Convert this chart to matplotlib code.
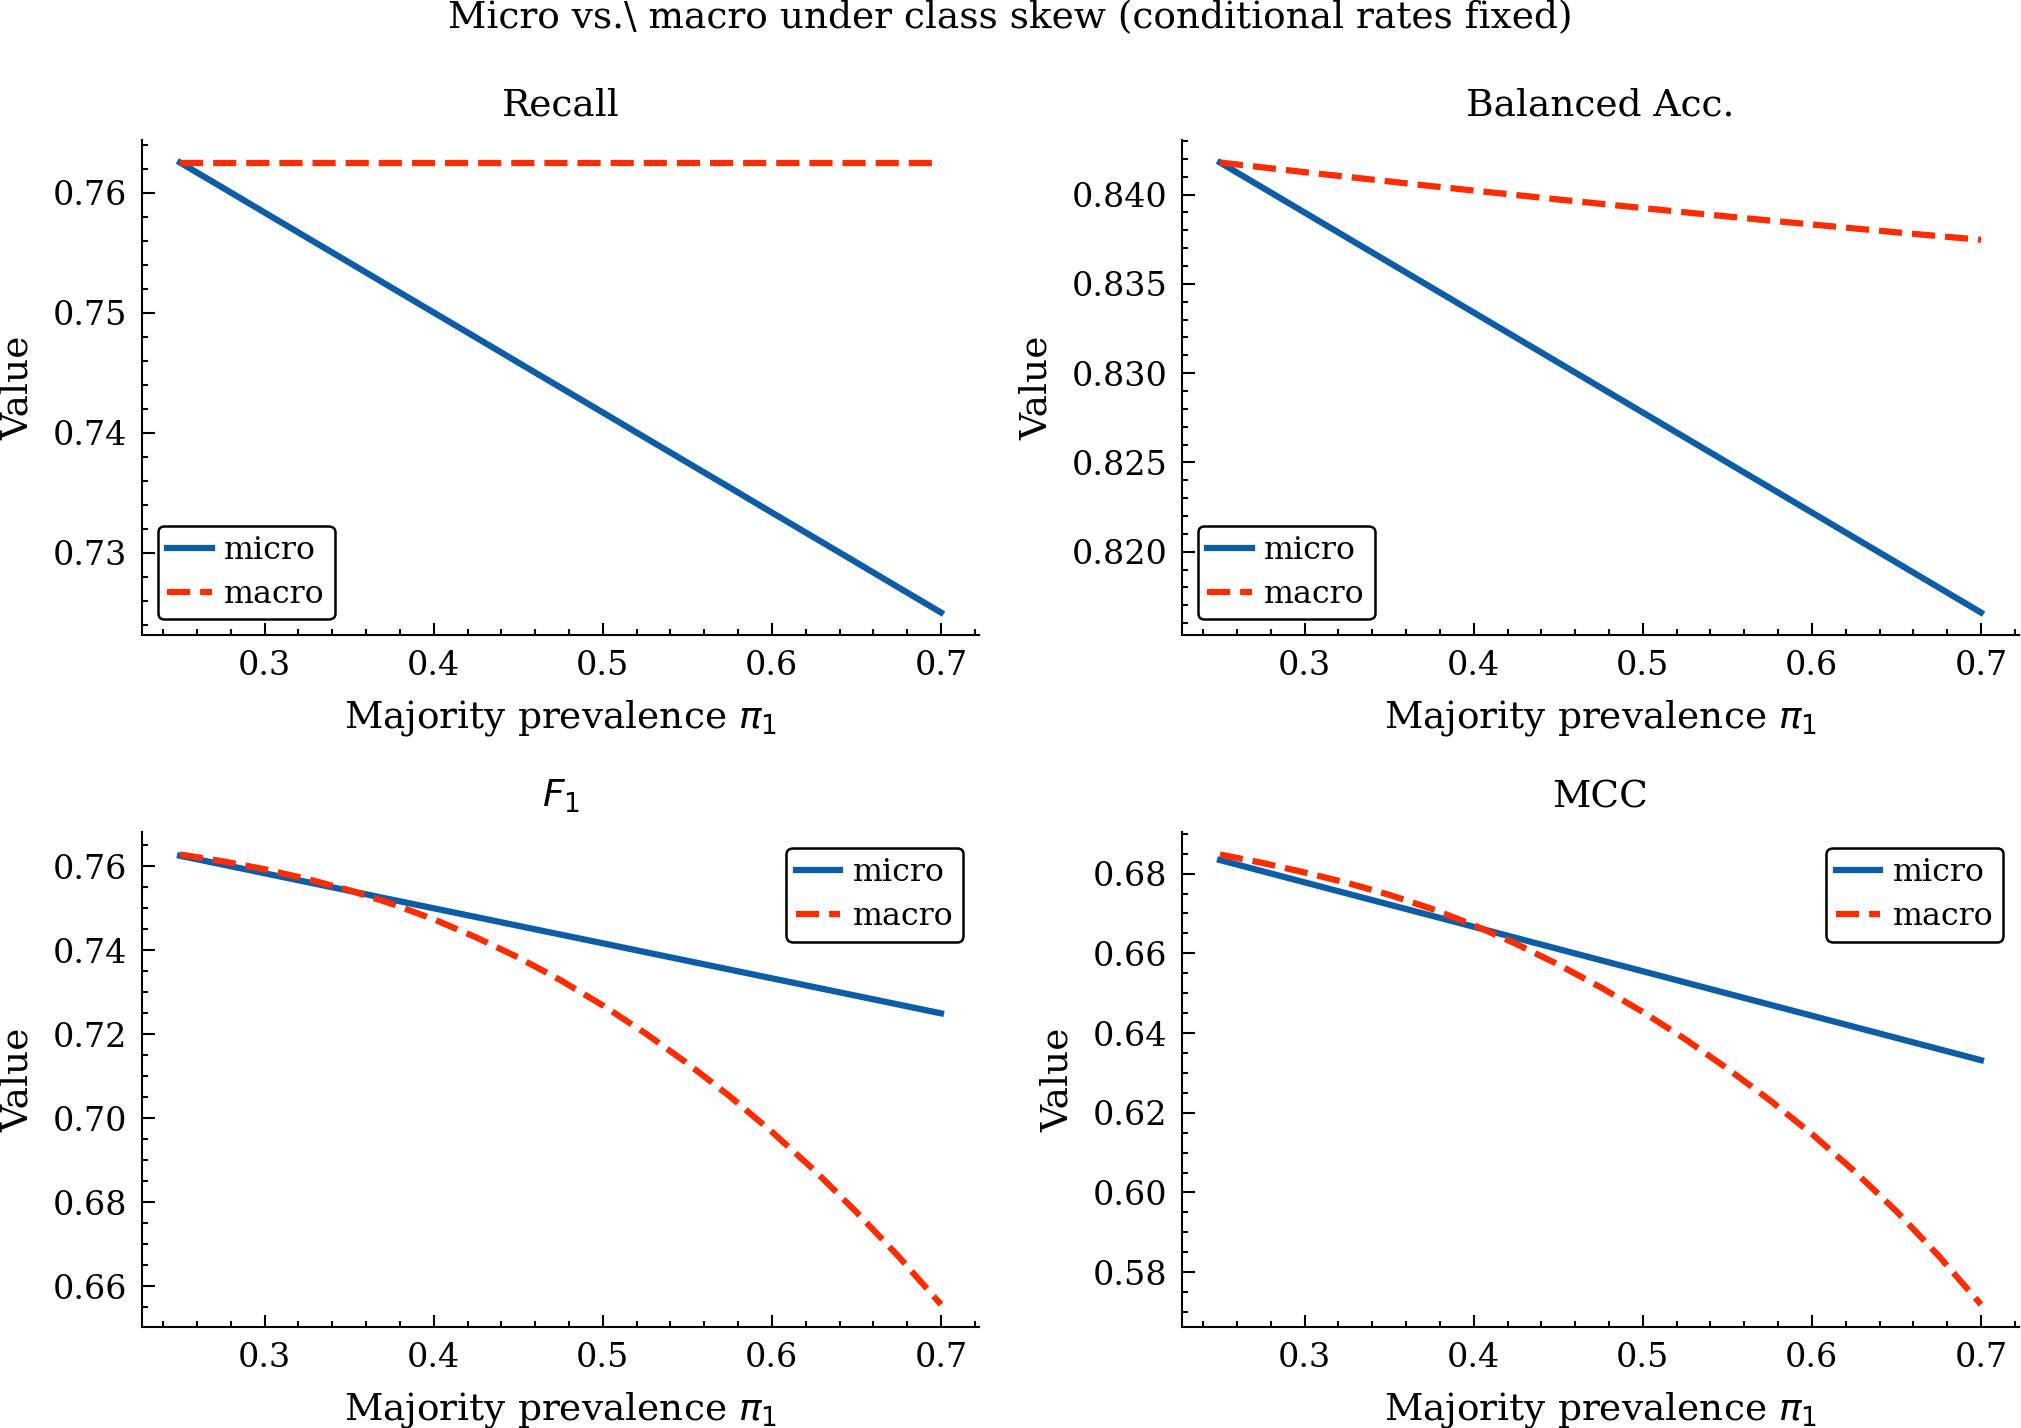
import matplotlib
matplotlib.use("Agg")
import matplotlib.pyplot as plt
from matplotlib.ticker import AutoMinorLocator

# ---- data ----
pi1 = [0.250, 0.275, 0.300, 0.325, 0.350, 0.375, 0.400, 0.425, 0.450, 0.475,
       0.500, 0.525, 0.550, 0.575, 0.600, 0.625, 0.650, 0.675, 0.700]

recall_micro = [0.76250, 0.76042, 0.75833, 0.75625, 0.75417, 0.75208, 0.75000, 0.74792, 0.74583, 0.74375,
                0.74167, 0.73958, 0.73750, 0.73542, 0.73333, 0.73125, 0.72917, 0.72708, 0.72500]
recall_macro = [0.7625, 0.7625, 0.7625, 0.7625, 0.7625, 0.7625, 0.7625, 0.7625, 0.7625, 0.7625,
                0.7625, 0.7625, 0.7625, 0.7625, 0.7625, 0.7625, 0.7625, 0.7625, 0.7625]

bacc_micro = [0.8418, 0.8404, 0.8390, 0.8376, 0.8362, 0.8348, 0.8334, 0.8320, 0.8306, 0.8292,
              0.8278, 0.8264, 0.8250, 0.8236, 0.8222, 0.8208, 0.8194, 0.8180, 0.8166]
bacc_macro = [0.84180, 0.84153, 0.84126, 0.84100, 0.84074, 0.84048, 0.84023, 0.83998, 0.83973, 0.83949,
              0.83925, 0.83901, 0.83878, 0.83855, 0.83833, 0.83811, 0.83789, 0.83768, 0.83747]

f1_micro = [0.76250, 0.76042, 0.75833, 0.75625, 0.75417, 0.75208, 0.75000, 0.74792, 0.74583, 0.74375,
            0.74167, 0.73958, 0.73750, 0.73542, 0.73333, 0.73125, 0.72917, 0.72708, 0.72500]
f1_macro = [0.7628, 0.7612, 0.7593, 0.7570, 0.7543, 0.7511, 0.7474, 0.7431, 0.7383, 0.7329,
            0.7269, 0.7203, 0.7131, 0.7053, 0.6968, 0.6877, 0.6777, 0.6671, 0.6557]

mcc_micro = [0.68340, 0.68061, 0.67782, 0.67503, 0.67224, 0.66946, 0.66667, 0.66388, 0.66109, 0.65830,
             0.65551, 0.65272, 0.64993, 0.64714, 0.64436, 0.64157, 0.63878, 0.63599, 0.63320]
mcc_macro = [0.6848, 0.6827, 0.6803, 0.6777, 0.6747, 0.6712, 0.6671, 0.6624, 0.6572, 0.6515,
             0.6453, 0.6385, 0.6311, 0.6232, 0.6147, 0.6054, 0.5953, 0.5841, 0.5719]

titles = ["Recall", "Balanced Acc.", "$F_1$", "MCC"]
series = [(recall_micro, recall_macro), (bacc_micro, bacc_macro),
          (f1_micro, f1_macro), (mcc_micro, mcc_macro)]
legend_locs = ["lower left", "lower left", "upper right", "upper right"]
suptitle = "Micro vs.\\ macro under class skew (conditional rates fixed)"

# ---- style ----
plt.rcParams.update({
    "font.family": ["DejaVu Serif"],
    "xtick.direction": "in",
    "ytick.direction": "in",
    "xtick.major.size": 3,
    "ytick.major.size": 3,
    "xtick.minor.size": 1.5,
    "ytick.minor.size": 1.5,
    "xtick.major.width": 0.5,
    "ytick.major.width": 0.5,
    "xtick.minor.width": 0.5,
    "ytick.minor.width": 0.5,
    "axes.linewidth": 0.5,
    "xtick.labelsize": 8,
    "ytick.labelsize": 8,
})

W, H = 2021, 1428
dpi = 300
fig = plt.figure(figsize=(W / dpi, H / dpi), dpi=dpi)

col_x = [(142, 979), (1182, 2019)]
row_y = [(140, 635), (832, 1327)]

blue = "#0C5DA5"
red = "#FF2C00"

for i, (title, (mi, ma)) in enumerate(zip(titles, series)):
    r, c = divmod(i, 2)
    x0, x1 = col_x[c]
    yt, yb = row_y[r]
    ax = fig.add_axes([x0 / W, 1 - yb / H, (x1 - x0) / W, (yb - yt) / H])
    ax.plot(pi1, mi, color=blue, lw=1.5, label="micro")
    ax.plot(pi1, ma, color=red, lw=1.5, ls="--", label="macro")
    ax.set_title(title, fontsize=9)
    ax.set_xlabel(r"Majority prevalence $\pi_1$", fontsize=9)
    ax.set_ylabel("Value", fontsize=9)
    ax.spines["top"].set_visible(False)
    ax.spines["right"].set_visible(False)
    ax.set_xticks([0.3, 0.4, 0.5, 0.6, 0.7])
    ax.xaxis.set_minor_locator(AutoMinorLocator())
    ax.yaxis.set_minor_locator(AutoMinorLocator())
    leg = ax.legend(loc=legend_locs[i], fontsize=7.6, frameon=True, fancybox=True,
                    edgecolor="black", framealpha=1.0, handlelength=1.4,
                    handletextpad=0.4, labelspacing=0.4, borderpad=0.3,
                    borderaxespad=0.5)
    leg.get_frame().set_linewidth(0.6)

fig.suptitle(suptitle, fontsize=9, y=1 - 18 / H, va="center")

fig.savefig("out.png", dpi=dpi)
